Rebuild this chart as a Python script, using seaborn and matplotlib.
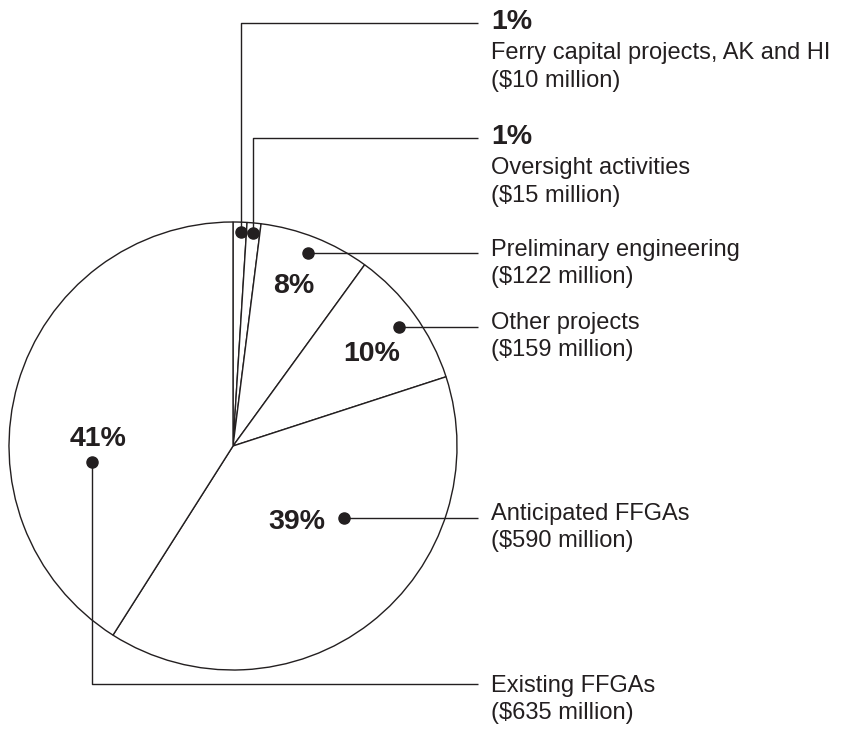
import seaborn as sns
import matplotlib.pyplot as plt

# data (percent shares drive the slices, clockwise from 12 o'clock)
categories = ["Ferry capital projects, AK and HI", "Oversight activities",
              "Preliminary engineering", "Other projects",
              "Anticipated FFGAs", "Existing FFGAs"]
percents = [1, 1, 8, 10, 39, 41]
amounts = [10, 15, 122, 159, 590, 635]  # $ million

INK = "#231f20"

sns.set_theme(style="white")
plt.rcParams['font.family'] = ['Liberation Sans', 'DejaVu Sans']

W, H = 843, 730
fig = plt.figure(figsize=(W / 100, H / 100), dpi=100)
ax = fig.add_axes([0, 0, 1, 1])

# inverted y axis: start at -90 / counterclock=True draws clockwise from top on screen
ax.pie(percents, center=(233, 446), radius=224, startangle=-90, counterclock=True,
       colors=['white'] * len(percents),
       wedgeprops=dict(edgecolor=INK, linewidth=1.0), frame=True)
ax.set_xlim(0, W)
ax.set_ylim(H, 0)
ax.set_aspect('equal')
ax.axis('off')

# leader lines: dot -> path -> label
leaders = [
    [(241, 232), (241, 23), (478, 23)],
    [(253, 233), (253, 138), (478, 138)],
    [(308, 253), (478, 253)],
    [(399, 327), (478, 327)],
    [(344, 518), (478, 518)],
    [(92, 462), (92, 684), (478, 684)],
]
for path in leaders:
    xs, ys = zip(*path)
    ax.plot(xs, ys, color=INK, lw=1.0, solid_capstyle='butt')
    ax.plot(xs[0], ys[0], 'o', color=INK, ms=8)

TX = 491
fs = 17
bfs = 20.5
# outside labels for the two tiny slices
for i, y0 in [(0, 29), (1, 144)]:
    ax.text(TX, y0, f"{percents[i]}%", fontsize=bfs, fontweight='bold', color=INK, va='baseline')
    ax.text(TX, y0 + 30, categories[i], fontsize=fs, color=INK, va='baseline')
    ax.text(TX, y0 + 58, f"(${amounts[i]} million)", fontsize=fs, color=INK, va='baseline')

for i, y0 in [(2, 256), (3, 329), (4, 520), (5, 692)]:
    ax.text(TX, y0, categories[i], fontsize=fs, color=INK, va='baseline')
    ax.text(TX, y0 + 27, f"(${amounts[i]} million)", fontsize=fs, color=INK, va='baseline')

# inside percent labels
for i, (x, y) in [(2, (294, 293)), (3, (372, 361)), (4, (297, 529)), (5, (98, 446))]:
    ax.text(x, y, f"{percents[i]}%", fontsize=bfs, fontweight='bold', color=INK,
            ha='center', va='baseline')

fig.savefig("out.png", dpi=100, facecolor='white')
